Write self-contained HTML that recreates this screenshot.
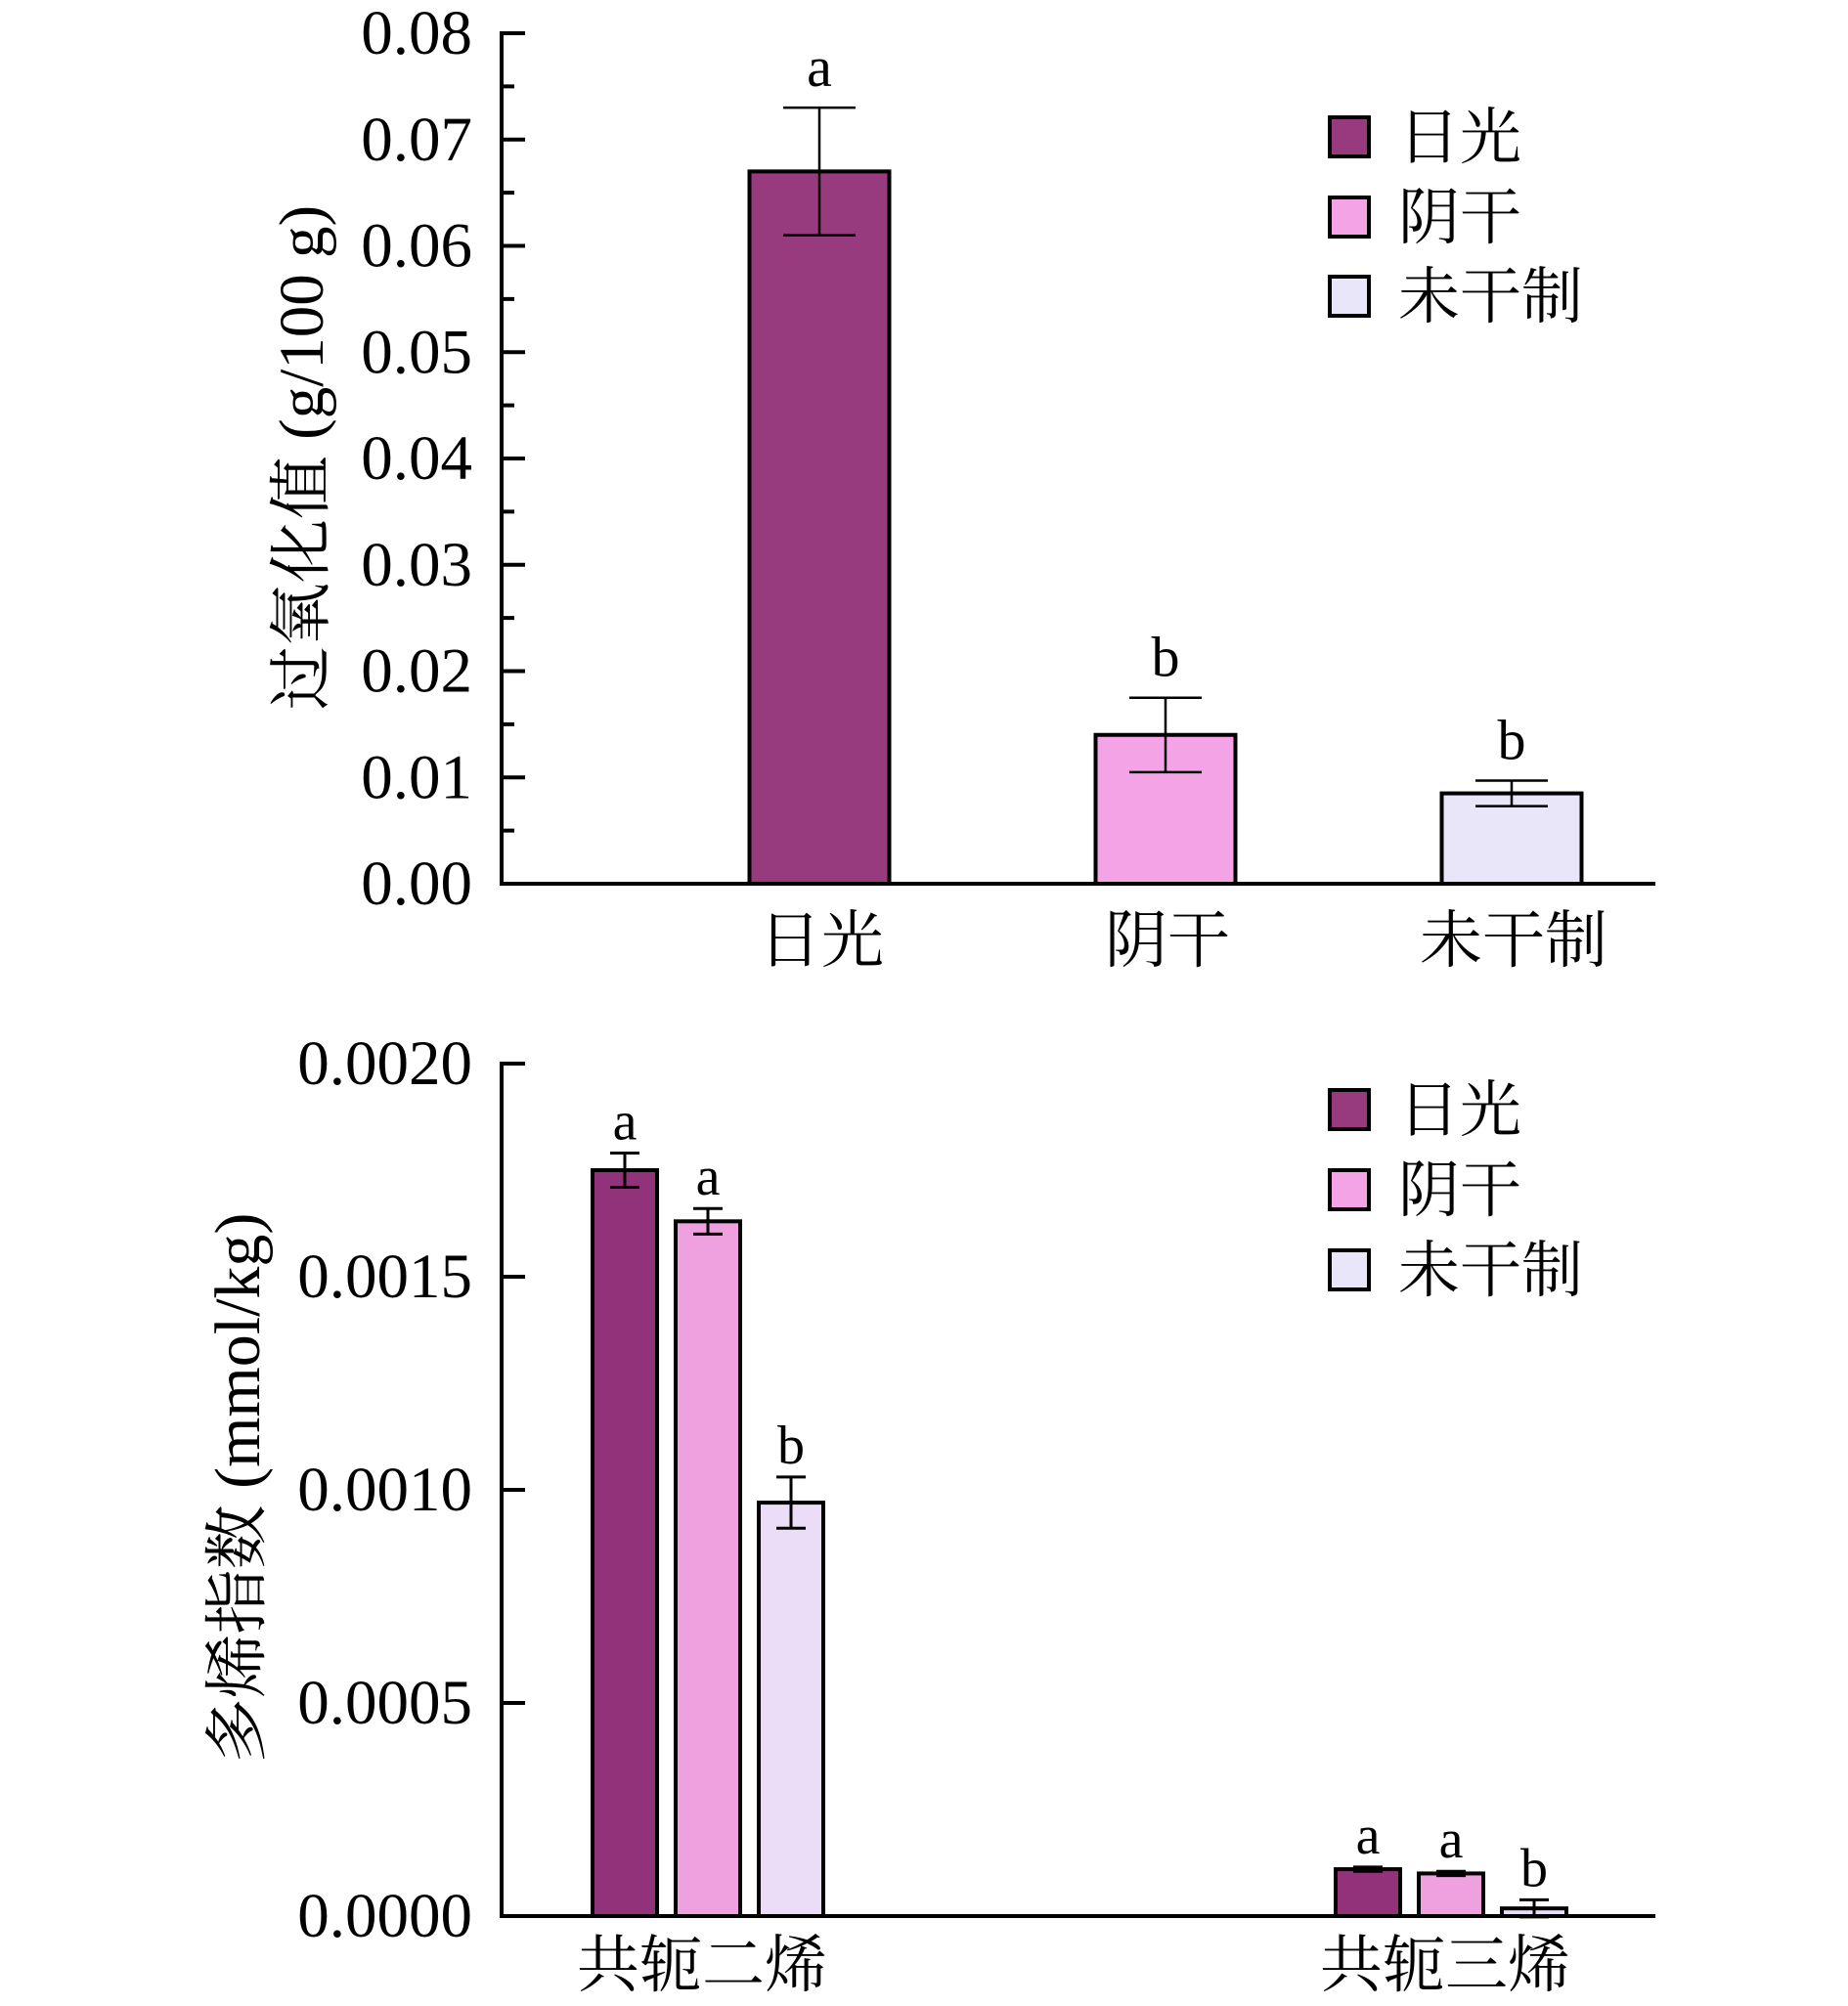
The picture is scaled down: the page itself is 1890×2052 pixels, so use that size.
<!DOCTYPE html>
<html><head><meta charset="utf-8"><style>
html,body{margin:0;padding:0;background:#fff}
svg{display:block}
text{font-family:"Liberation Serif","Noto Serif CJK SC","Noto Sans CJK SC",serif;fill:#000}
</style></head><body>
<svg id="c" width="1890" height="2052" viewBox="0 0 1890 2052" xmlns="http://www.w3.org/2000/svg"></svg>
<script>
// Chart 1 data
const cats1 = ["日光","阴干","未干制"];
const vals1 = [0.067,0.014,0.0085];
const errs1 = [0.006,0.0035,0.0012];
const sig1 = ["a","b","b"];
const ticks1 = ["0.00","0.01","0.02","0.03","0.04","0.05","0.06","0.07","0.08"];
// Chart 2 data
const groups2 = ["共轭二烯","共轭三烯"];
const series2 = ["日光","阴干","未干制"];
const sun2 = [0.00175,0.00011];
const shade2 = [0.00163,0.0001];
const raw2 = [0.00097,0.000018];
const errSun2 = [0.00004,0.000005];
const errShade2 = [0.00003,0.000005];
const errRaw2 = [0.00006,0.00002];
const sig2 = [["a","a","b"],["a","a","b"]];
const ticks2 = ["0.0000","0.0005","0.0010","0.0015","0.0020"];

const svg=document.getElementById('c');
const NS="http://www.w3.org/2000/svg";
function el(tag,attrs,parent){const e=document.createElementNS(NS,tag);for(const k in attrs)e.setAttribute(k,attrs[k]);(parent||svg).appendChild(e);return e;}
function txt(s,attrs,parent){const e=el('text',attrs,parent);e.textContent=s;return e;}

// ---------- Chart 1 ----------
const c1=el('g',{});


const ax=513, y0a=904, ytopa=34, xr=1693;
const y1=v=>y0a-(v/0.08)*(y0a-ytopa);
const colors1=["#983a7e","#f4a3e6","#e8e6f8"];
const xc1=[838,1192,1546];
const bw1=143;
vals1.forEach((v,i)=>{
  const r=el('rect',{x:xc1[i]-bw1/2,y:y1(v),width:bw1,height:y0a-y1(v),fill:colors1[i],stroke:'#000','stroke-width':4},c1);
  
  
  const hi=y1(v+errs1[i]), lo=y1(v-errs1[i]);
  const eb=el('path',{d:`M${xc1[i]} ${hi}V${lo}M${xc1[i]-37} ${hi}h74M${xc1[i]-37} ${lo}h74`,stroke:'#000','stroke-width':2.5,fill:'none'},c1);
  
  
  const s=txt(sig1[i],{x:xc1[i],y:hi-22,'font-size':58,'text-anchor':'middle'},c1);
  
  
  const xl=txt(cats1[i],{x:xc1[i]+2,y:984,'font-size':64,'text-anchor':'middle'},c1);
  
  
});
ticks1.forEach((t,i)=>{
  const v=i*0.01, y=y1(v);
  el('line',{x1:ax,x2:ax+24,y1:y,y2:y,stroke:'#000','stroke-width':4},c1);
  if(i<ticks1.length-1){const ym=y1(v+0.005);el('line',{x1:ax,x2:ax+13,y1:ym,y2:ym,stroke:'#000','stroke-width':4},c1);}
  const l=txt(t,{x:483,y:y+21,'font-size':65,'text-anchor':'end'},c1);
  
  
});
el('path',{d:`M${ax} ${ytopa-2}V${y0a}H${xr}`,stroke:'#000','stroke-width':4,fill:'none'},c1);
const yt1=txt('过氧化值 (g/100 g)',{x:0,y:0,'font-size':65,'text-anchor':'middle',transform:'translate(330 468) rotate(-90)'},c1);


function legend(parent,ys){
  series2.forEach((s,i)=>{
    const g=el('g',{},parent);
    
    
    el('rect',{x:1360,y:ys[i]-20,width:40,height:40,fill:colors1[i],stroke:'#000','stroke-width':4},g);
    txt(s,{x:1430,y:ys[i]+22,'font-size':63},g);
  });
}
legend(c1,[140,222,303]);

// ---------- Chart 2 ----------
const c2=el('g',{});


const y0b=1960, ytopb=1088;
const y2=v=>y0b-(v/0.002)*(y0b-ytopb);
const colors2=["#91327a","#eea0df","#ebdcf8"];
const groupX=[724,1484];
const offs=[-85,0,85];
const bw2=66;
const vals2=[sun2,shade2,raw2];
const errs2=[errSun2,errShade2,errRaw2];
groups2.forEach((gname,gi)=>{
  series2.forEach((sn,si)=>{
    const v=vals2[si][gi], e=errs2[si][gi], xc=groupX[gi]+offs[si];
    const r=el('rect',{x:xc-bw2/2,y:y2(v),width:bw2,height:y0b-y2(v),fill:colors2[si],stroke:'#000','stroke-width':4},c2);
    
    
    const hi=y2(v+e), lo=y2(v-e);
    const eb=el('path',{d:`M${xc} ${hi}V${lo}M${xc-15} ${hi}h30M${xc-15} ${lo}h30`,stroke:'#000','stroke-width':3,fill:'none'},c2);
    
    
    const s=txt(sig2[gi][si],{x:xc,y:hi-14,'font-size':56,'text-anchor':'middle'},c2);
    
    
  });
  const xl=txt(gname,{x:groupX[gi]-6,y:2032,'font-size':64,'text-anchor':'middle'},c2);
  
  
});
ticks2.forEach((t,i)=>{
  const y=y2(i*0.0005);
  el('line',{x1:ax,x2:ax+24,y1:y,y2:y,stroke:'#000','stroke-width':4},c2);
  const l=txt(t,{x:483,y:y+21,'font-size':65,'text-anchor':'end'},c2);
  
  
});
el('path',{d:`M${ax} ${ytopb-2}V${y0b}H${xr}`,stroke:'#000','stroke-width':4,fill:'none'},c2);
const yt2=txt('多烯指数 (mmol/kg)',{x:0,y:0,'font-size':66,'text-anchor':'middle',transform:'translate(265 1522) rotate(-90)'},c2);


legend(c2,[1135,1217,1299]);
</script>
</body></html>
